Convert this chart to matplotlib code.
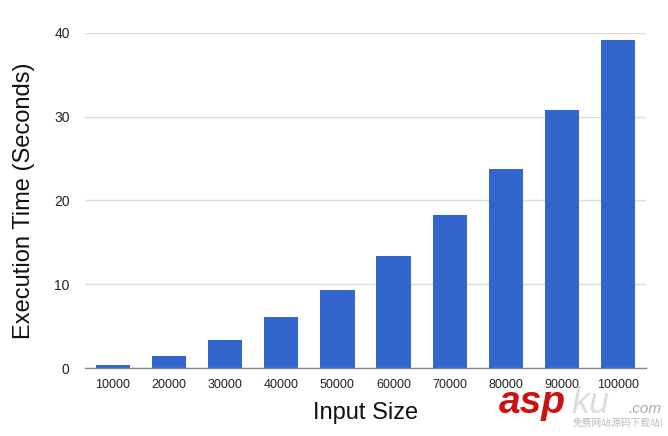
import matplotlib
matplotlib.use("Agg")
import matplotlib.pyplot as plt

categories = ["10000", "20000", "30000", "40000", "50000",
              "60000", "70000", "80000", "90000", "100000"]
values = [0.3, 1.4, 3.4, 6.05, 9.3, 13.4, 18.3, 23.8, 30.8, 39.2]
yticks = [0, 10, 20, 30, 40]

plt.rcParams['font.family'] = ['Liberation Sans', 'DejaVu Sans']

fig = plt.figure(figsize=(6.68, 4.36), dpi=100)
ax = fig.add_axes([85/668, 1-368/436, (646-85)/668, (368-33)/436])

x = list(range(len(categories)))
ax.bar(x, values, width=0.61, color="#3366cc", zorder=3)
ax.set_xlim(-0.5, len(categories)-0.5)
ax.set_ylim(0, 40)
ax.set_yticks(yticks)
ax.set_yticklabels([str(v) for v in yticks], fontsize=10, color="#222222")
ax.set_xticks(x)
ax.set_xticklabels(categories, fontsize=9, color="#222222")
ax.tick_params(axis='y', length=0, pad=11)
ax.tick_params(axis='x', length=0, pad=8)
ax.grid(axis='y', color="#dcdcdc", linewidth=1, zorder=0)
for s in ["top", "right", "left"]:
    ax.spines[s].set_visible(False)
ax.spines["bottom"].set_color("#888888")
ax.spines["bottom"].set_linewidth(1)
ax.spines["bottom"].set_zorder(4)

ax.set_ylabel("Execution Time (Seconds)", fontsize=17, color="#111111", labelpad=14)
ax.set_xlabel("Input Size", fontsize=17, color="#111111", labelpad=8)

# watermark
fig.text(499/668, 1-413/436, "asp", fontsize=28, fontweight="bold", style="italic",
         color="#cc1111", ha="left", va="baseline")
fig.text(571/668, 1-413/436, "ku", fontsize=26, style="italic",
         color="#dddddd", ha="left", va="baseline")
fig.text(628/668, 1-413/436, ".com", fontsize=11, style="italic",
         color="#aaaaaa", ha="left", va="baseline")
fig.text(663/668, 1-426/436, "免费网站源码下载站!", fontsize=7,
         family=['Noto Sans CJK SC', 'DejaVu Sans'],
         color="#bbbbbb", ha="right", va="baseline")

fig.savefig("out.png", dpi=100, facecolor="white")
